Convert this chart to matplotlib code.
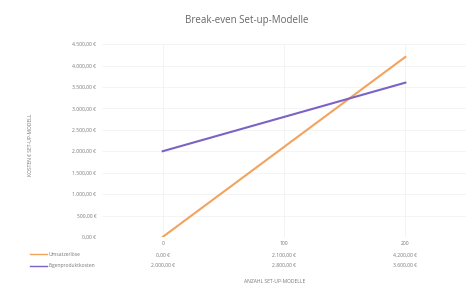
import matplotlib
matplotlib.use("Agg")
from matplotlib import pyplot as plt
import matplotlib.transforms as mtransforms
import numpy as np

plt.rcParams['font.family'] = ['Open Sans', 'DejaVu Sans']

# Daten
kategorien = ['0', '100', '200']
umsatz = [0, 2100, 4200]
kosten = [2000, 2800, 3600]
reihen = ['Umsatzerlöse', 'Eigenproduktkosten']
y_ticks = [0, 500, 1000, 1500, 2000, 2500, 3000, 3500, 4000, 4500]

def euro(v):
    s = f"{v:,.2f}".replace(',', 'X').replace('.', ',').replace('X', '.')
    return s + ' €'

fig = plt.figure(figsize=(4.66, 2.90), dpi=100)
fig.patch.set_facecolor('white')
ax = fig.add_axes([0.219, 0.183, 0.781, 0.665])

x = np.arange(len(kategorien))
ax.plot(x, umsatz, color='#f2a35e', lw=1.5)
ax.plot(x, kosten, color='#7a63c4', lw=1.5)

ax.set_xlim(-0.5, 2.5)
ax.set_ylim(0, 4500)
ax.set_yticks(y_ticks)
ax.set_yticklabels([euro(v) for v in y_ticks], fontsize=3.6, color='#777777')
ax.set_xticks([])
ax.grid(axis='y', color='#f0f0f0', lw=0.5)
for xv in x:
    ax.axvline(xv, color='#eeeeee', lw=0.5, zorder=0)
for s in ax.spines.values():
    s.set_visible(False)
ax.tick_params(axis='y', length=0, pad=4)

fig.text(0.065, 0.50, 'KOSTEN € SET-UP-MODELL', rotation=90, fontsize=3.6,
         color='#777777', ha='center', va='center')
fig.text(0.59, 0.031, 'ANZAHL SET-UP-MODELLE', fontsize=3.6, color='#777777',
         ha='center', va='center')
fig.text(0.53, 0.93, 'Break-even Set-up-Modelle', fontsize=7, color='#666666',
         ha='center', va='center')

# Datentabelle
tr = mtransforms.blended_transform_factory(ax.transData, fig.transFigure)
for i, k in enumerate(kategorien):
    ax.text(i, 0.162, k, transform=tr, fontsize=3.6, color='#777777', ha='center', va='center')
    ax.text(i, 0.121, euro(umsatz[i]), transform=tr, fontsize=3.6, color='#777777', ha='center', va='center')
    ax.text(i, 0.086, euro(kosten[i]), transform=tr, fontsize=3.6, color='#777777', ha='center', va='center')

for yy, name, col in [(0.124, reihen[0], '#f2a35e'), (0.083, reihen[1], '#7a63c4')]:
    fig.add_artist(plt.Line2D([0.065, 0.10], [yy, yy], color=col, lw=1.0, transform=fig.transFigure))
    fig.text(0.105, yy, name, fontsize=3.6, color='#777777', ha='left', va='center')

fig.savefig('out.png', dpi=100)
plt.close()
